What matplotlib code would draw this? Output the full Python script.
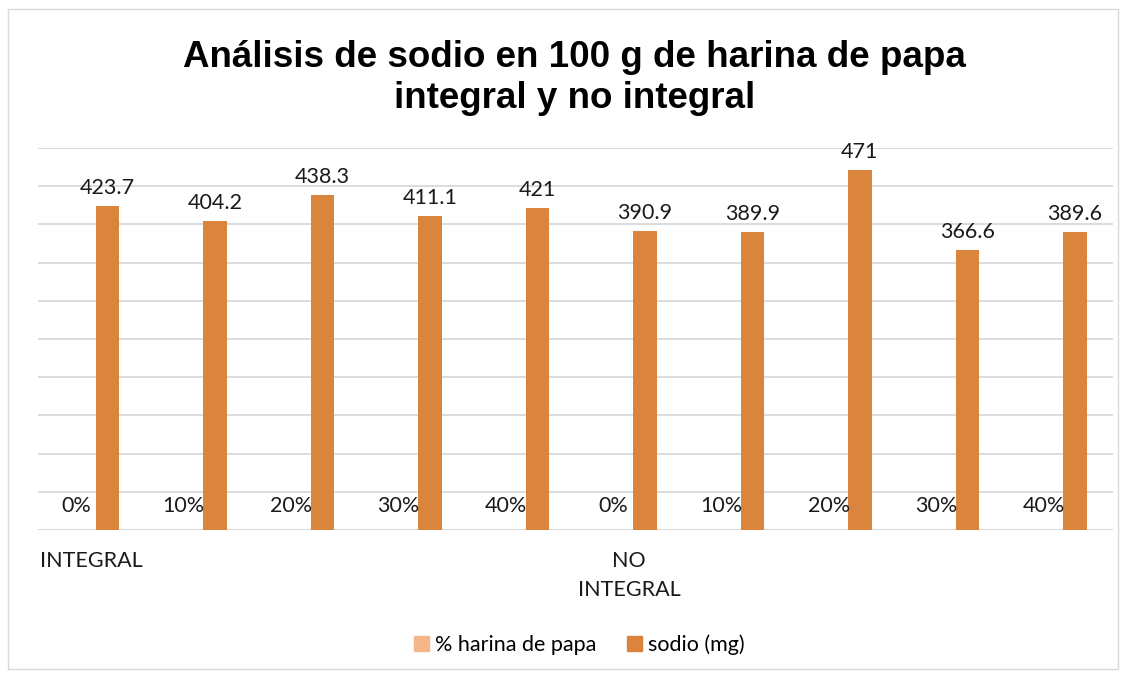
import matplotlib
matplotlib.use('Agg')
import matplotlib.pyplot as plt
from matplotlib.patches import Rectangle, Patch

# data
grupos = ['INTEGRAL', 'NO\nINTEGRAL']
harina = [0.0, 0.1, 0.2, 0.3, 0.4, 0.0, 0.1, 0.2, 0.3, 0.4]
sodio = [423.7, 404.2, 438.3, 411.1, 421, 390.9, 389.9, 471, 366.6, 389.6]
sodio_txt = ['423.7', '404.2', '438.3', '411.1', '421', '390.9', '389.9', '471', '366.6', '389.6']

c_light = '#F7B58A'
c_dark = '#DB843D'
lbl_font = 'Lato'
fs = 15.5

fig = plt.figure(figsize=(11.27, 6.77), dpi=100)
ax = fig.add_axes([38 / 1127, 1 - 530 / 677, (1113 - 38) / 1127, (530 - 148) / 677])

x = list(range(len(sodio)))
w = 0.22
off = 0.145
ax.bar([i - off for i in x], harina, width=w, color=c_light, zorder=3)
ax.bar([i + off for i in x], sodio, width=w, color=c_dark, zorder=3)

ax.set_xlim(-0.5, len(sodio) - 0.5)
ax.set_ylim(0, 500)
ax.set_yticks(range(0, 501, 50))
ax.yaxis.grid(True, color='#D9D9D9', linewidth=1.3, zorder=0)
ax.set_axisbelow(True)
ax.tick_params(left=False, bottom=False, labelleft=False, labelbottom=False)
for s in ax.spines.values():
    s.set_visible(False)
ax.axhline(0, color='#D9D9D9', linewidth=1.3, zorder=1)

for i in x:
    ax.annotate(f'{int(round(harina[i] * 100))}%', (i - off, harina[i]),
                xytext=(0, 10), textcoords='offset points',
                ha='center', va='bottom', fontsize=fs, family=lbl_font, color='#1a1a1a')
    ax.annotate(sodio_txt[i], (i + off, sodio[i]),
                xytext=(0, 6), textcoords='offset points',
                ha='center', va='bottom', fontsize=fs, family=lbl_font, color='#1a1a1a')

# group labels under first category of each group
ax.text(0, -0.055, grupos[0], transform=ax.get_xaxis_transform(), ha='center', va='top',
        fontsize=fs, family=lbl_font, color='#1a1a1a')
ax.text(5, -0.055, grupos[1], transform=ax.get_xaxis_transform(), ha='center', va='top',
        fontsize=fs, family=lbl_font, color='#1a1a1a', linespacing=1.55, multialignment='center')

fig.text(0.51, 0.885, 'Análisis de sodio en 100 g de harina de papa\nintegral y no integral',
         ha='center', va='center', fontsize=26.5, fontweight='bold',
         family='Liberation Sans', linespacing=1.2)

handles = [Patch(color=c_light, label='% harina de papa'),
           Patch(color=c_dark, label='sodio (mg)')]
fig.legend(handles=handles, loc='center', bbox_to_anchor=(0.514, 0.047), ncol=2,
           frameon=False, prop={'family': lbl_font, 'size': fs},
           handlelength=0.7, handleheight=0.7, handletextpad=0.3, columnspacing=1.4)

fig.patches.append(Rectangle((8 / 1127, 8 / 677), 1110 / 1127, 660 / 677,
                             transform=fig.transFigure, fill=False,
                             edgecolor='#D9D9D9', linewidth=1))

fig.savefig('out.png', dpi=100)
